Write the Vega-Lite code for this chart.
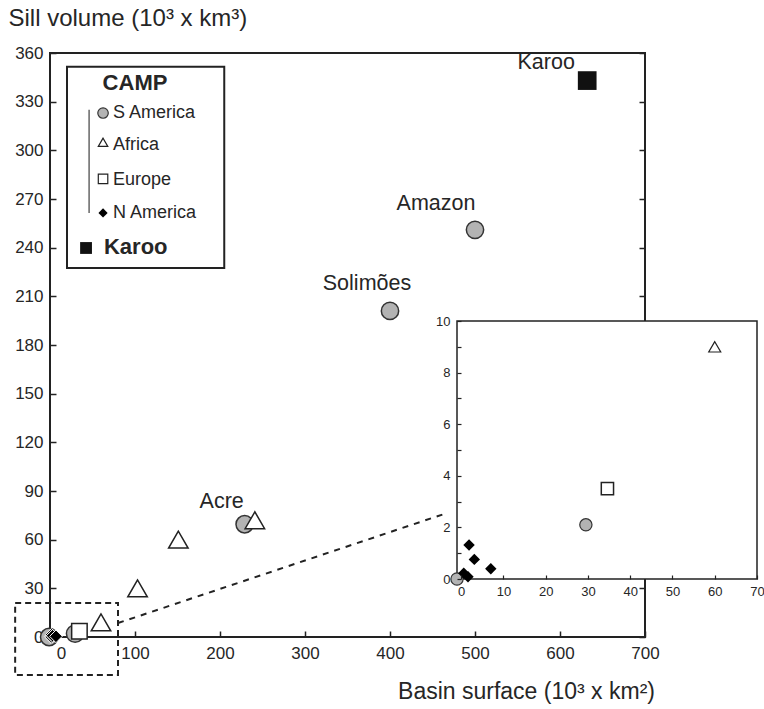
{
  "$schema": "https://vega.github.io/schema/vega-lite/v6.json",
  "width": 595,
  "height": 584,
  "autosize": {"type": "none"},
  "padding": {"left": 50, "top": 53, "right": 119, "bottom": 72},
  "background": "white",
  "config": {
    "view": {"stroke": null},
    "font": "Liberation Sans",
    "axis": {"grid": false, "labelFlush": false},
    "text": {"font": "Liberation Sans", "color": "#262626"}
  },
  "datasets": {
    "pts": [
      {"group": "S America", "x": -1, "y": 0},
      {"group": "S America", "x": 29.5, "y": 2.1},
      {"group": "S America", "x": 229, "y": 69.5, "name": "Acre"},
      {"group": "S America", "x": 400, "y": 201, "name": "Solimões"},
      {"group": "S America", "x": 500, "y": 251, "name": "Amazon"},
      {"group": "Africa", "x": 60, "y": 9},
      {"group": "Africa", "x": 103, "y": 30},
      {"group": "Africa", "x": 151, "y": 60},
      {"group": "Africa", "x": 241, "y": 72},
      {"group": "Europe", "x": 34.6, "y": 3.5},
      {"group": "N America", "x": 0.6, "y": 0.22},
      {"group": "N America", "x": 1.6, "y": 0.09},
      {"group": "N America", "x": 1.85, "y": 1.32},
      {"group": "N America", "x": 3.1, "y": 0.76},
      {"group": "N America", "x": 7.0, "y": 0.4},
      {"group": "Karoo", "x": 632, "y": 343, "name": "Karoo"}
    ]
  },
  "layer": [
    {
      "data": {"values": [{}]},
      "mark": {"type": "rect", "fill": "transparent", "stroke": "#222", "strokeWidth": 2},
      "encoding": {
        "x": {"datum": 0, "type": "quantitative", "scale": {"domain": [0, 700], "nice": false, "zero": false}, "axis": null},
        "x2": {"datum": 700},
        "y": {"datum": 0, "type": "quantitative", "scale": {"domain": [0, 360], "nice": false, "zero": false},
          "axis": {"orient": "right", "values": [0, 30, 60, 90, 120, 150, 180, 210, 240, 270, 300, 330, 360], "labels": false, "domain": false, "tickSize": -6, "tickWidth": 1.5, "tickColor": "#222", "title": null}},
        "y2": {"datum": 360}
      }
    },
    {
      "data": {"name": "pts"},
      "layer": [
        {
          "transform": [{"filter": "datum.group === 'S America'"}],
          "mark": {"type": "point", "shape": "circle", "filled": true, "fill": "#b3b3b3", "stroke": "#333", "strokeWidth": 1.5, "size": 300, "opacity": 1},
          "encoding": {
            "x": {"field": "x", "type": "quantitative", "scale": {"domain": [0, 700], "nice": false, "zero": false},
              "axis": {"values": [0, 100, 200, 300, 400, 500, 600, 700], "domain": false, "tickSize": -6, "tickWidth": 1.5, "tickColor": "#222",
                "labelFontSize": 17, "labelColor": "#262626", "labelPadding": 14, "labelFlush": false,
                "labelOffset": {"condition": {"test": "datum.value === 0", "value": 11}, "value": 0},
                "title": "Basin surface (10³ x km²)", "titleFontSize": 23, "titleFontWeight": "normal", "titleColor": "#262626",
                "titleX": 476, "titleY": 54, "titleAlign": "center", "titleBaseline": "middle"}},
            "y": {"field": "y", "type": "quantitative", "scale": {"domain": [0, 360], "nice": false, "zero": false},
              "axis": {"values": [0, 30, 60, 90, 120, 150, 180, 210, 240, 270, 300, 330, 360], "domain": false, "tickSize": -6, "tickWidth": 1.5, "tickColor": "#222",
                "labelFontSize": 17, "labelColor": "#262626", "labelPadding": 13,
                "title": "Sill volume (10³ x km³)", "titleFontSize": 24, "titleFontWeight": "normal", "titleColor": "#262626",
                "titleAngle": 0, "titleX": -42, "titleY": -35, "titleAlign": "left", "titleBaseline": "middle"}}
          }
        },
        {
          "transform": [{"filter": "datum.group === 'Africa'"}],
          "mark": {"type": "point", "shape": "triangle-up", "filled": true, "fill": "white", "stroke": "#222", "strokeWidth": 1.5, "size": 380, "opacity": 1},
          "encoding": {"x": {"field": "x", "type": "quantitative"}, "y": {"field": "y", "type": "quantitative"}}
        },
        {
          "transform": [{"filter": "datum.group === 'Europe'"}],
          "mark": {"type": "point", "shape": "square", "filled": true, "fill": "white", "stroke": "#222", "strokeWidth": 1.5, "size": 240, "opacity": 1},
          "encoding": {"x": {"field": "x", "type": "quantitative"}, "y": {"field": "y", "type": "quantitative"}}
        },
        {
          "transform": [{"filter": "datum.group === 'N America'"}],
          "mark": {"type": "point", "shape": "diamond", "filled": true, "fill": "#000", "stroke": "#fff", "strokeWidth": 1, "size": 160, "opacity": 1},
          "encoding": {"x": {"field": "x", "type": "quantitative"}, "y": {"field": "y", "type": "quantitative"}}
        },
        {
          "transform": [{"filter": "datum.group === 'Karoo'"}],
          "mark": {"type": "point", "shape": "square", "filled": true, "fill": "#111", "strokeWidth": 0, "size": 350, "opacity": 1},
          "encoding": {"x": {"field": "x", "type": "quantitative"}, "y": {"field": "y", "type": "quantitative"}}
        },
        {
          "transform": [{"filter": "datum.name === 'Karoo'"}],
          "mark": {"type": "text", "fontSize": 21.5, "align": "center", "baseline": "middle", "dx": -41, "dy": -18},
          "encoding": {"x": {"field": "x", "type": "quantitative"}, "y": {"field": "y", "type": "quantitative"}, "text": {"field": "name"}}
        },
        {
          "transform": [{"filter": "datum.name === 'Amazon'"}],
          "mark": {"type": "text", "fontSize": 21.5, "align": "center", "baseline": "middle", "dx": -39, "dy": -26},
          "encoding": {"x": {"field": "x", "type": "quantitative"}, "y": {"field": "y", "type": "quantitative"}, "text": {"field": "name"}}
        },
        {
          "transform": [{"filter": "datum.name === 'Solimões'"}],
          "mark": {"type": "text", "fontSize": 21.5, "align": "center", "baseline": "middle", "dx": -23, "dy": -27},
          "encoding": {"x": {"field": "x", "type": "quantitative"}, "y": {"field": "y", "type": "quantitative"}, "text": {"field": "name"}}
        },
        {
          "transform": [{"filter": "datum.name === 'Acre'"}],
          "mark": {"type": "text", "fontSize": 21.5, "align": "center", "baseline": "middle", "dx": -23, "dy": -22},
          "encoding": {"x": {"field": "x", "type": "quantitative"}, "y": {"field": "y", "type": "quantitative"}, "text": {"field": "name"}}
        },
        {
          "data": {"values": [{}]},
          "mark": {"type": "rect", "fill": "transparent", "stroke": "#222", "strokeWidth": 2, "strokeDash": [6, 4]},
          "encoding": {"x": {"datum": -41}, "x2": {"datum": 80}, "y": {"datum": -23.4}, "y2": {"datum": 21}}
        },
        {
          "data": {"values": [{}]},
          "mark": {"type": "rule", "stroke": "#222", "strokeWidth": 2, "strokeDash": [6, 6]},
          "encoding": {"x": {"datum": 80}, "x2": {"datum": 467}, "y": {"datum": 8.6}, "y2": {"datum": 76.4}}
        },
        {
          "data": {"values": [{}]},
          "mark": {"type": "rect", "fill": "white", "stroke": "#222", "strokeWidth": 2},
          "encoding": {"x": {"datum": 20}, "x2": {"datum": 205}, "y": {"datum": 227.5}, "y2": {"datum": 351.5}}
        },
        {
          "data": {"values": [{}]},
          "mark": {"type": "text", "text": "CAMP", "fontSize": 22, "fontWeight": "bold", "align": "center", "baseline": "middle"},
          "encoding": {"x": {"datum": 100}, "y": {"datum": 341.5}}
        },
        {
          "data": {"values": [{}]},
          "mark": {"type": "rule", "stroke": "#666", "strokeWidth": 1.5},
          "encoding": {"x": {"datum": 46}, "y": {"datum": 261.4}, "y2": {"datum": 325}}
        },
        {
          "data": {"values": [{}]},
          "mark": {"type": "point", "shape": "circle", "filled": true, "fill": "#b3b3b3", "stroke": "#333", "strokeWidth": 1.2, "size": 110, "opacity": 1},
          "encoding": {"x": {"datum": 62.4}, "y": {"datum": 323}}
        },
        {
          "data": {"values": [{}]},
          "mark": {"type": "point", "shape": "triangle-up", "filled": true, "fill": "white", "stroke": "#222", "strokeWidth": 1.2, "size": 90, "opacity": 1},
          "encoding": {"x": {"datum": 62.4}, "y": {"datum": 305}}
        },
        {
          "data": {"values": [{}]},
          "mark": {"type": "point", "shape": "square", "filled": true, "fill": "white", "stroke": "#222", "strokeWidth": 1.2, "size": 90, "opacity": 1},
          "encoding": {"x": {"datum": 62.4}, "y": {"datum": 282.4}}
        },
        {
          "data": {"values": [{}]},
          "mark": {"type": "point", "shape": "diamond", "filled": true, "fill": "#000", "strokeWidth": 0, "size": 85, "opacity": 1},
          "encoding": {"x": {"datum": 62.4}, "y": {"datum": 261.4}}
        },
        {
          "data": {"values": [{}]},
          "mark": {"type": "point", "shape": "square", "filled": true, "fill": "#111", "strokeWidth": 0, "size": 140, "opacity": 1},
          "encoding": {"x": {"datum": 42.4}, "y": {"datum": 239.8}}
        },
        {
          "data": {"values": [{}]},
          "mark": {"type": "text", "text": "S America", "fontSize": 18, "align": "left", "baseline": "middle"},
          "encoding": {"x": {"datum": 74}, "y": {"datum": 323}}
        },
        {
          "data": {"values": [{}]},
          "mark": {"type": "text", "text": "Africa", "fontSize": 18, "align": "left", "baseline": "middle"},
          "encoding": {"x": {"datum": 74}, "y": {"datum": 303}}
        },
        {
          "data": {"values": [{}]},
          "mark": {"type": "text", "text": "Europe", "fontSize": 18, "align": "left", "baseline": "middle"},
          "encoding": {"x": {"datum": 74}, "y": {"datum": 282}}
        },
        {
          "data": {"values": [{}]},
          "mark": {"type": "text", "text": "N America", "fontSize": 18, "align": "left", "baseline": "middle"},
          "encoding": {"x": {"datum": 74}, "y": {"datum": 261.4}}
        },
        {
          "data": {"values": [{}]},
          "mark": {"type": "text", "text": "Karoo", "fontSize": 22, "fontWeight": "bold", "align": "left", "baseline": "middle"},
          "encoding": {"x": {"datum": 63.5}, "y": {"datum": 240.5}}
        }
      ]
    },
    {
      "layer": [
        {
          "data": {"values": [{}]},
          "mark": {"type": "rect", "fill": "white", "stroke": "#222", "strokeWidth": 1.5},
          "encoding": {
            "x": {"datum": -1, "type": "quantitative", "scale": {"domain": [-1, 70], "range": [407, 707], "nice": false, "zero": false},
              "axis": {"orient": "bottom", "offset": -58, "values": [0, 10, 20, 30, 40, 50, 60, 70], "domain": false, "tickSize": -4, "tickWidth": 1.2, "tickColor": "#222",
                "labelFontSize": 13, "labelColor": "#262626", "labelPadding": 10, "labelFlush": false, "zindex": 1, "title": null}},
            "x2": {"datum": 70},
            "y": {"datum": 0, "type": "quantitative", "scale": {"domain": [0, 10], "range": [526, 268], "nice": false, "zero": false},
              "axis": {"orient": "left", "offset": -407, "values": [0, 1, 2, 3, 4, 5, 6, 7, 8, 9, 10], "labelExpr": "datum.value % 2 === 0 ? format(datum.value, 'd') : ''",
                "domain": false, "tickSize": -4, "tickWidth": 1.2, "tickColor": "#222", "labelFontSize": 13, "labelColor": "#262626", "labelPadding": 11, "zindex": 1, "title": null}},
            "y2": {"datum": 10}
          }
        },
        {
          "data": {"name": "pts"},
          "transform": [{"filter": "datum.group === 'S America' && datum.x <= 70 && datum.y <= 10"}],
          "mark": {"type": "point", "shape": "circle", "filled": true, "fill": "#b3b3b3", "stroke": "#333", "strokeWidth": 1.2, "size": 150, "opacity": 1},
          "encoding": {"x": {"field": "x", "type": "quantitative"}, "y": {"field": "y", "type": "quantitative"}}
        },
        {
          "data": {"name": "pts"},
          "transform": [{"filter": "datum.group === 'Africa' && datum.x <= 70 && datum.y <= 10"}],
          "mark": {"type": "point", "shape": "triangle-up", "filled": true, "fill": "white", "stroke": "#222", "strokeWidth": 1.2, "size": 144, "opacity": 1},
          "encoding": {"x": {"field": "x", "type": "quantitative"}, "y": {"field": "y", "type": "quantitative"}}
        },
        {
          "data": {"name": "pts"},
          "transform": [{"filter": "datum.group === 'Europe' && datum.x <= 70 && datum.y <= 10"}],
          "mark": {"type": "point", "shape": "square", "filled": true, "fill": "white", "stroke": "#222", "strokeWidth": 1.5, "size": 150, "opacity": 1},
          "encoding": {"x": {"field": "x", "type": "quantitative"}, "y": {"field": "y", "type": "quantitative"}}
        },
        {
          "data": {"name": "pts"},
          "transform": [{"filter": "datum.group === 'N America' && datum.x <= 70 && datum.y <= 10"}],
          "mark": {"type": "point", "shape": "diamond", "filled": true, "fill": "#000", "strokeWidth": 0, "size": 130, "opacity": 1},
          "encoding": {"x": {"field": "x", "type": "quantitative"}, "y": {"field": "y", "type": "quantitative"}}
        }
      ]
    }
  ],
  "resolve": {"scale": {"x": "independent", "y": "independent"}}
}
